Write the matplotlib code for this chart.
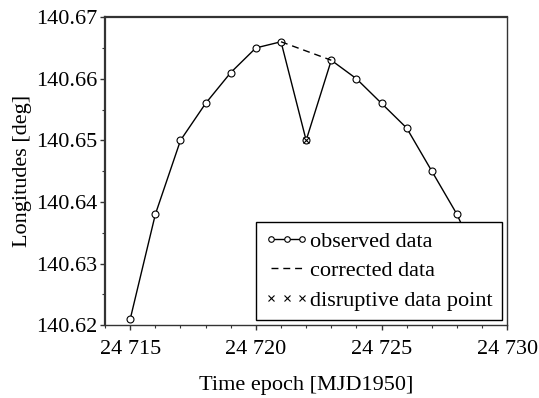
import matplotlib
matplotlib.use("Agg")
import matplotlib.pyplot as plt
from matplotlib.ticker import FuncFormatter, MultipleLocator

plt.rcParams['font.family'] = ['Liberation Serif', 'DejaVu Serif']

# observed longitudes per epoch
epochs = [24715, 24716, 24717, 24718, 24719, 24720, 24721, 24722,
          24723, 24724, 24725, 24726, 24727, 24728, 24729]
longitudes = [140.621, 140.638, 140.650, 140.656, 140.661, 140.665, 140.666,
              140.650, 140.663, 140.660, 140.656, 140.652, 140.645, 140.638,
              140.629]

# corrected segment around the bad point
corr_epochs = [24721, 24723]
corr_longitudes = [140.666, 140.663]

# disruptive point
bad_epoch = [24722]
bad_longitude = [140.650]

fig = plt.figure(figsize=(5.39, 3.98), dpi=100)
ax = fig.add_axes([0.195, 0.183, 0.746, 0.774])

ax.plot(epochs, longitudes, color='black', linewidth=1, marker='o',
        markersize=5, markerfacecolor='white', markeredgewidth=0.8,
        label='observed data')
ax.plot(corr_epochs, corr_longitudes, color='black', linewidth=1,
        linestyle=(0, (5, 3.5)), label='corrected data')
ax.plot(bad_epoch, bad_longitude, linestyle='none', marker='x', color='black',
        markersize=5, markeredgewidth=0.8, label='disruptive data point')

ax.set_xlim(24714, 24730)
ax.set_ylim(140.62, 140.67)
ax.xaxis.set_major_locator(MultipleLocator(5))
ax.xaxis.set_minor_locator(MultipleLocator(1))
ax.yaxis.set_major_locator(MultipleLocator(0.01))
ax.yaxis.set_minor_locator(MultipleLocator(0.005))
ax.xaxis.set_major_formatter(FuncFormatter(
    lambda v, p: f"{int(round(v)):,}".replace(",", " ")))
ax.yaxis.set_major_formatter(FuncFormatter(lambda v, p: f"{v:.2f}"))

ax.tick_params(which='major', direction='out', length=3.6, width=1,
               labelsize=16, color='#333333', pad=2)
ax.tick_params(axis='x', which='major', pad=7)
ax.tick_params(which='minor', direction='out', length=2.2, width=0.8,
               color='#333333')
for s in ['left', 'top']:
    ax.spines[s].set_linewidth(1.6)
    ax.spines[s].set_color('#333333')
for s in ['right', 'bottom']:
    ax.spines[s].set_linewidth(1.0)
    ax.spines[s].set_color('#333333')

ax.set_xlabel("Time epoch [MJD1950]", fontsize=16, labelpad=12)
ax.set_ylabel("Longitudes [deg]", fontsize=16, labelpad=3)

leg = ax.legend(loc='lower right', fontsize=16, numpoints=3, handlelength=2.0,
                handletextpad=0.05, borderaxespad=0.25, borderpad=0.4,
                labelspacing=0.4, fancybox=False, framealpha=1,
                edgecolor='black', markerscale=0.8)
leg.get_frame().set_linewidth(1.0)

fig.savefig("out.png", dpi=100)
